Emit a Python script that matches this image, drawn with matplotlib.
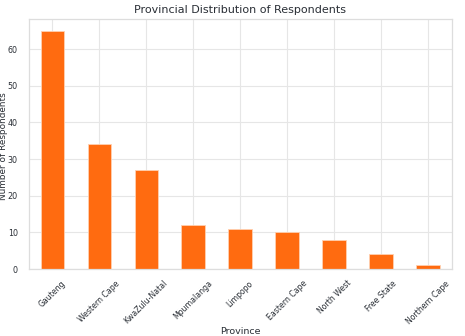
import matplotlib
matplotlib.use("Agg")
import matplotlib.pyplot as plt
import seaborn as sns
import pandas as pd

provinces = ["Gauteng", "Western Cape", "KwaZulu-Natal", "Mpumalanga", "Limpopo",
             "Eastern Cape", "North West", "Free State", "Northern Cape"]
counts = [65, 34, 27, 12, 11, 10, 8, 4, 1]

sns.set_theme(style="whitegrid", rc={"grid.color": "#e6e6e6", "axes.edgecolor": "#dddddd",
                                     "text.color": "#2a2f36", "axes.labelcolor": "#2a2f36",
                                     "xtick.color": "#2a2f36", "ytick.color": "#2a2f36"})
plt.rcParams['font.family'] = ['DejaVu Sans']

province_counts = pd.Series(counts, index=provinces)

fig, ax = plt.subplots(figsize=(4.65, 3.36), dpi=100)
province_counts.plot(kind="bar", color="#ff6b10", edgecolor="#ffd0b0", linewidth=0.6, ax=ax)
ax.set_title("Provincial Distribution of Respondents", fontsize=8, pad=4.5)
ax.set_xlabel("Province", fontsize=6.8, labelpad=1)
ax.set_ylabel("Number of Respondents", fontsize=6.4)
ax.yaxis.set_label_coords(-0.05, 0.49)
ax.tick_params(axis="x", labelsize=5.6, rotation=45, pad=1)
ax.tick_params(axis="y", labelsize=5.8, pad=2)
for lbl in ax.get_xticklabels():
    lbl.set_ha("center")
ax.grid(linewidth=0.8)
for s in ax.spines.values():
    s.set_linewidth(0.9)
fig.subplots_adjust(left=0.062, right=0.971, top=0.944, bottom=0.199)
fig.savefig("out.png", dpi=100)
